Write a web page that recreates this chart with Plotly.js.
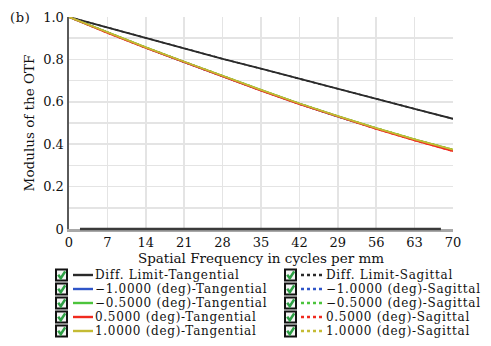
<!DOCTYPE html>
<html><head><meta charset="utf-8">
<script src="https://cdn.plot.ly/plotly-3.0.1.min.js"></script>
<style>html,body{margin:0;padding:0;background:#fff}#chart{width:491px;height:346px}
.annotation-text{letter-spacing:0.7px}</style>
</head><body><div id="chart"></div>
<script>
// ---- data ----
const freq = [0, 7, 14, 21, 28, 35, 42, 49, 56, 63, 70];
const freqTickText = ['0','7','14','21','28','35','42','29','56','63','70'];
const diffTan = [1.0, 0.950, 0.900, 0.852, 0.803, 0.756, 0.708, 0.661, 0.614, 0.567, 0.520];
const diffSag = [1.0, 0.950, 0.900, 0.852, 0.803, 0.756, 0.708, 0.661, 0.614, 0.567, 0.520];
const m10Tan = [1.0, 0.926, 0.855, 0.787, 0.720, 0.654, 0.590, 0.530, 0.474, 0.421, 0.372];
const m05Tan = [1.0, 0.927, 0.857, 0.789, 0.722, 0.656, 0.592, 0.532, 0.476, 0.423, 0.374];
const p05Tan = [1.0, 0.925, 0.854, 0.786, 0.719, 0.653, 0.589, 0.529, 0.472, 0.418, 0.367];
const p10Tan = [1.0, 0.927, 0.857, 0.789, 0.722, 0.656, 0.592, 0.532, 0.476, 0.423, 0.374];
const m10Sag = [1.0, 0.926, 0.855, 0.787, 0.720, 0.654, 0.590, 0.530, 0.474, 0.421, 0.372];
const m05Sag = [1.0, 0.927, 0.857, 0.789, 0.722, 0.656, 0.592, 0.532, 0.476, 0.423, 0.374];
const p05Sag = [1.0, 0.925, 0.854, 0.786, 0.719, 0.653, 0.589, 0.529, 0.472, 0.418, 0.367];
const p10Sag = [1.0, 0.927, 0.857, 0.789, 0.722, 0.656, 0.592, 0.532, 0.476, 0.423, 0.374];
const yTickVals = [0, 0.2, 0.4, 0.6, 0.8, 1.0];
const yTickText = ['0', '0.2', '0.4', '0.6', '0.8', '1.0'];
const tanNames = ['Diff. Limit-Tangential', '\u22121.0000 (deg)-Tangential', '\u22120.5000 (deg)-Tangential', '0.5000 (deg)-Tangential', '1.0000 (deg)-Tangential'];
const sagNames = ['Diff. Limit-Sagittal', '\u22121.0000 (deg)-Sagittal', '\u22120.5000 (deg)-Sagittal', '0.5000 (deg)-Sagittal', '1.0000 (deg)-Sagittal'];
const colors = ['#2a2a2a', '#2f55c8', '#4cc43c', '#f02a1e', '#c4bb34'];
const tanSeries = [diffTan, m10Tan, m05Tan, p05Tan, p10Tan];
const sagSeries = [diffSag, m10Sag, m05Sag, p05Sag, p10Sag];

// ---- layout geometry ----
const W = 491, H = 346, L = 69, R = 38, T = 17, B = 117;
const PW = W - L - R, PH = H - T - B;
const px = x => (x - L) / PW;
const py = y => (H - B - y) / PH;
const FONT = 'DejaVu Serif, serif';

const traces = [];
sagSeries.forEach((s, i) => traces.push({x: freq, y: s, type: 'scatter', mode: 'lines', name: sagNames[i], showlegend: false,
  line: {color: colors[i], width: 1.6, dash: '3px,3px'}, hoverinfo: 'skip'}));
tanSeries.forEach((s, i) => traces.push({x: freq, y: s, type: 'scatter', mode: 'lines', name: tanNames[i], showlegend: false,
  line: {color: colors[i], width: 1.8}, hoverinfo: 'skip'}));

const shapes = [];
const annotations = [];
// bottom axis dark segment
shapes.push({type: 'line', xref: 'x', yref: 'paper', x0: 2, x1: 67.8, y0: 0, y1: 0, line: {color: '#3a3a3a', width: 2.5}});

const rowY = [275, 289, 303, 317, 331];
function checkbox(x0, yc) {
  const s = 11;
  shapes.push({type: 'rect', xref: 'paper', yref: 'paper', x0: px(x0), x1: px(x0 + s), y0: py(yc + s / 2), y1: py(yc - s / 2),
    line: {color: '#111', width: 2}, fillcolor: '#f4f4f4'});
  const p = `M ${px(x0 + 2.2)} ${py(yc - 0.3)} L ${px(x0 + 4.8)} ${py(yc + 3.2)} L ${px(x0 + 9.2)} ${py(yc - 3.6)}`;
  shapes.push({type: 'path', xref: 'paper', yref: 'paper', path: p, line: {color: '#2fa046', width: 2.6}});
}
function entry(boxX, lineX0, lineX1, textX, yc, name, color, dash) {
  checkbox(boxX, yc);
  shapes.push({type: 'line', xref: 'paper', yref: 'paper', x0: px(lineX0), x1: px(lineX1), y0: py(yc), y1: py(yc),
    line: {color: color, width: 2.4, dash: dash}});
  annotations.push({xref: 'paper', yref: 'paper', x: px(textX), y: py(yc), xanchor: 'left', yanchor: 'middle',
    text: name, showarrow: false, borderpad: 0, font: {family: FONT, size: 12, color: '#111'}});
}
for (let i = 0; i < 5; i++) {
  entry(56, 73, 93, 94, rowY[i], tanNames[i], colors[i], 'solid');
  entry(285, 301, 323, 325, rowY[i], sagNames[i], colors[i], '3px,3px');
}
annotations.push({xref: 'paper', yref: 'paper', x: px(8), y: py(17), xanchor: 'left', yanchor: 'middle',
  text: '(b)', showarrow: false, font: {family: FONT, size: 13, color: '#111'}});

const layout = {
  width: W, height: H,
  margin: {l: L, r: R, t: T, b: B, pad: 0},
  paper_bgcolor: '#fff', plot_bgcolor: '#fff',
  showlegend: false,
  font: {family: FONT, size: 13, color: '#111'},
  xaxis: {
    range: [0, 70], tickvals: freq, ticktext: freqTickText, ticks: '',
    showgrid: true, gridcolor: '#e4e4e4', gridwidth: 1.5, zeroline: false,
    showline: true, linecolor: '#a8a8a8', linewidth: 2.5,
    tickfont: {family: FONT, size: 13, color: '#111'},
    title: {text: 'Spatial Frequency in cycles per mm', font: {family: FONT, size: 13.5, color: '#111'}, standoff: 1},
    fixedrange: true
  },
  yaxis: {
    range: [0, 1], tickvals: yTickVals, ticktext: yTickText, ticks: '',
    showgrid: true, gridcolor: '#e4e4e4', gridwidth: 1.5, zeroline: false,
    minor: {dtick: 0.1, showgrid: true, gridcolor: '#e4e4e4', gridwidth: 1.5, ticks: ''},
    showline: true, linecolor: '#5a5a5a', linewidth: 2.5,
    tickfont: {family: FONT, size: 13, color: '#111'},
    title: {text: 'Modulus of the OTF', font: {family: FONT, size: 13.5, color: '#111'}, standoff: 6},
    fixedrange: true
  },
  shapes: shapes,
  annotations: annotations
};
Plotly.newPlot('chart', traces, layout, {staticPlot: true, displayModeBar: false});
</script></body></html>
